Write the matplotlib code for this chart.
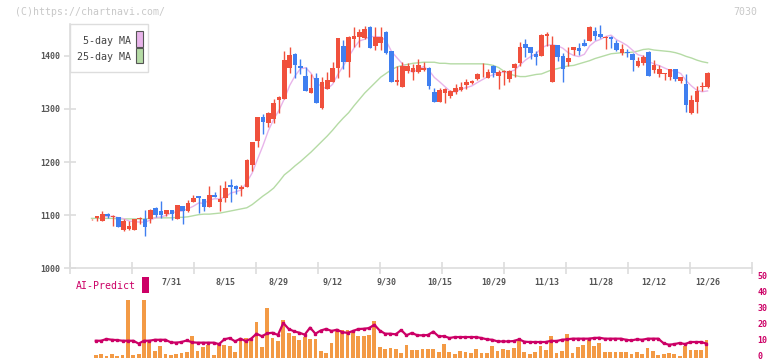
import numpy as np
import pandas as pd
import matplotlib
matplotlib.use('Agg')
import matplotlib.pyplot as plt
from matplotlib.patches import Rectangle
from matplotlib.transforms import ScaledTranslation

# ---------------- data ----------------
opens = [1092, 1095, 1090, 1103, 1097, 1096, 1072, 1074, 1072, 1092,
         1093, 1092, 1114, 1108, 1103, 1110, 1093, 1117, 1107, 1125,
         1137, 1130, 1116, 1138, 1125, 1133, 1157, 1155, 1150, 1154,
         1195, 1240, 1284, 1273, 1281, 1316, 1319, 1378, 1404, 1381,
         1362, 1331, 1358, 1301, 1338, 1351, 1378, 1419, 1389, 1431,
         1436, 1433, 1454, 1419, 1425, 1445, 1409, 1350, 1342, 1372,
         1369, 1370, 1373, 1378, 1332, 1314, 1330, 1325, 1332, 1336,
         1346, 1348, 1357, 1367, 1359, 1381, 1363, 1369, 1357, 1378,
         1387, 1422, 1416, 1404, 1400, 1438, 1350, 1420, 1400, 1388,
         1411, 1415, 1425, 1428, 1447, 1441, 1434, 1436, 1425, 1406,
         1407, 1404, 1380, 1386, 1408, 1373, 1365, 1366, 1360, 1375,
         1353, 1347, 1292, 1314, 1342, 1342]
highs = [1093, 1098, 1108, 1104, 1100, 1097, 1092, 1089, 1093, 1096,
         1110, 1111, 1115, 1127, 1110, 1110, 1119, 1117, 1129, 1138,
         1137, 1131, 1155, 1144, 1157, 1164, 1168, 1156, 1157, 1206,
         1237, 1284, 1290, 1294, 1319, 1324, 1409, 1417, 1405, 1395,
         1379, 1366, 1368, 1361, 1370, 1388, 1434, 1429, 1437, 1455,
         1450, 1456, 1456, 1454, 1455, 1446, 1410, 1380, 1389, 1386,
         1385, 1395, 1389, 1379, 1339, 1339, 1339, 1335, 1347, 1350,
         1356, 1354, 1368, 1386, 1376, 1382, 1373, 1373, 1374, 1387,
         1426, 1432, 1417, 1410, 1442, 1445, 1437, 1421, 1405, 1416,
         1417, 1425, 1432, 1457, 1455, 1458, 1437, 1437, 1429, 1422,
         1413, 1405, 1397, 1402, 1409, 1392, 1383, 1368, 1376, 1376,
         1361, 1366, 1326, 1343, 1350, 1369]
lows = [1091, 1090, 1090, 1094, 1080, 1078, 1071, 1072, 1072, 1084,
        1060, 1085, 1096, 1095, 1098, 1091, 1093, 1083, 1106, 1124,
        1105, 1107, 1116, 1134, 1108, 1125, 1125, 1139, 1137, 1154,
        1184, 1229, 1253, 1266, 1274, 1292, 1318, 1368, 1359, 1366,
        1333, 1331, 1311, 1300, 1338, 1350, 1359, 1375, 1360, 1416,
        1417, 1432, 1414, 1411, 1411, 1403, 1351, 1345, 1342, 1367,
        1355, 1367, 1372, 1338, 1314, 1314, 1311, 1320, 1328, 1333,
        1337, 1347, 1355, 1360, 1358, 1360, 1338, 1345, 1350, 1360,
        1380, 1397, 1395, 1382, 1399, 1419, 1350, 1391, 1350, 1380,
        1402, 1402, 1418, 1428, 1430, 1434, 1413, 1414, 1410, 1402,
        1398, 1372, 1379, 1382, 1363, 1368, 1361, 1355, 1355, 1353,
        1348, 1295, 1291, 1293, 1333, 1340]
closes = [1092, 1098, 1102, 1099, 1099, 1078, 1089, 1080, 1093, 1095,
          1077, 1110, 1101, 1101, 1110, 1102, 1119, 1107, 1123, 1133,
          1133, 1116, 1138, 1135, 1131, 1151, 1154, 1150, 1153, 1204,
          1237, 1284, 1276, 1293, 1312, 1323, 1392, 1402, 1383, 1378,
          1333, 1339, 1311, 1350, 1355, 1377, 1433, 1389, 1436, 1438,
          1444, 1450, 1414, 1435, 1436, 1406, 1351, 1355, 1380, 1380,
          1378, 1383, 1378, 1344, 1314, 1336, 1337, 1334, 1339, 1342,
          1350, 1352, 1365, 1368, 1370, 1367, 1370, 1372, 1372, 1385,
          1416, 1415, 1406, 1398, 1439, 1441, 1420, 1397, 1375, 1396,
          1416, 1409, 1419, 1454, 1438, 1435, 1436, 1432, 1411, 1413,
          1405, 1392, 1390, 1397, 1363, 1383, 1375, 1367, 1375, 1357,
          1360, 1308, 1317, 1334, 1343, 1368]
ma25 = [1094, 1094, 1094, 1094, 1094, 1093, 1093, 1093, 1093, 1093,
        1093, 1094, 1095, 1095, 1095, 1095, 1096, 1096, 1097, 1099,
        1101, 1102, 1102, 1103, 1104, 1106, 1108, 1110, 1112, 1114,
        1120, 1128, 1136, 1143, 1151, 1163, 1176, 1184, 1193, 1201,
        1210, 1219, 1229, 1239, 1249, 1260, 1272, 1283, 1293, 1306,
        1318, 1330, 1340, 1350, 1360, 1367, 1374, 1379, 1382, 1384,
        1386, 1387, 1388, 1388, 1388, 1386, 1386, 1385, 1385, 1385,
        1385, 1385, 1385, 1385, 1384, 1382, 1378, 1371, 1366, 1363,
        1361, 1361, 1363, 1365, 1366, 1370, 1374, 1376, 1379, 1381,
        1382, 1385, 1388, 1391, 1395, 1398, 1401, 1404, 1405, 1406,
        1406, 1407, 1409, 1412, 1413, 1411, 1410, 1409, 1408, 1406,
        1403, 1399, 1396, 1392, 1389, 1387]
# volume-like bars and AI-Predict line (start at the 2nd candle)
bars = [1.9, 2.5, 1.3, 2.5, 1.3, 1.9, 36.2, 1.9, 2.5, 36.2,
        9.8, 4.4, 7.5, 2.5, 1.9, 2.5, 3.1, 3.8, 13.8, 4.4,
        6.9, 8.1, 1.9, 9.4, 8.1, 7.5, 3.8, 12.5, 12.5, 11.9,
        22.5, 6.9, 31.2, 12.5, 10.6, 23.8, 15.6, 13.8, 11.2, 13.1,
        11.9, 11.9, 4.4, 3.1, 9.4, 17.5, 17.5, 17.5, 16.2, 13.8,
        13.8, 14.4, 23.1, 6.9, 5.6, 6.2, 5.6, 3.1, 8.1, 5.0,
        5.0, 5.6, 5.6, 5.6, 3.8, 8.8, 3.8, 2.5, 4.4, 3.8,
        3.1, 5.6, 3.1, 3.1, 7.5, 4.4, 5.6, 5.0, 6.2, 10.6,
        3.8, 2.5, 3.8, 7.5, 5.0, 13.8, 3.1, 4.4, 15.0, 3.1,
        6.9, 8.1, 11.2, 7.5, 9.4, 3.8, 3.8, 3.8, 3.8, 3.8,
        2.5, 3.8, 2.5, 6.2, 4.4, 1.9, 2.5, 3.1, 2.5, 1.3,
        7.5, 5.0, 5.0, 5.0, 11.2]
ai_predict = [10.6, 10.6, 11.7, 11.2, 11.0, 10.6, 10.6, 10.6, 8.8, 10.6,
              10.6, 11.2, 11.2, 11.2, 9.6, 9.4, 9.8, 10.8, 9.6, 9.4,
              9.4, 9.4, 9.4, 8.5, 11.5, 12.3, 10.2, 11.9, 10.4, 11.9,
              15.0, 13.4, 15.2, 15.6, 14.2, 21.7, 18.0, 16.5, 15.6, 14.4,
              18.8, 15.0, 17.0, 18.0, 16.7, 17.5, 16.0, 15.5, 16.7, 17.9,
              18.1, 18.5, 20.6, 17.0, 15.0, 15.0, 14.6, 17.3, 14.0, 15.5,
              14.0, 14.0, 14.2, 16.3, 13.3, 13.5, 12.3, 12.9, 12.9, 12.9,
              12.9, 12.9, 12.3, 11.5, 11.2, 10.2, 10.2, 10.2, 10.4, 11.5,
              10.0, 9.8, 9.8, 9.8, 9.8, 10.6, 10.4, 11.2, 11.5, 11.9,
              11.9, 11.9, 11.9, 12.3, 12.5, 11.9, 11.9, 11.9, 11.9, 11.2,
              10.8, 11.5, 11.2, 11.9, 11.9, 11.9, 9.0, 8.1, 8.5, 9.2,
              8.5, 9.8, 9.8, 9.8, 8.8]
date_labels = ['7/31', '8/15', '8/29', '9/12', '9/30', '10/15',
               '10/29', '11/13', '11/28', '12/12', '12/26']
date_label_idx = [15, 25, 35, 45, 55, 65, 75, 85, 95, 105, 115]
price_ticks = [1000, 1100, 1200, 1300, 1400]
ai_ticks = [0, 10, 20, 30, 40, 50]

# ---------------- styling ----------------
UP = '#f0503c'
DOWN = '#3f7ff0'
MA5_C = '#e8b4ea'
MA25_C = '#b5dba5'
BAR_C = '#f39a45'
AI_C = '#cc0066'
SPINE = '#dddddd'
TXT = '#555555'
MONO = 'DejaVu Sans Mono'

W, H = 772, 361
fig = plt.figure(figsize=(W / 100, H / 100), dpi=100)
fig.patch.set_facecolor('white')


def rect(l, t, r, b):
    return [l / W, 1 - b / H, (r - l) / W, (b - t) / H]


def fx(px):
    return px / W


def fy(py):
    return 1 - py / H


n = len(closes)
idx = np.arange(n)
o = np.array(opens, float)
h = np.array(highs, float)
lo = np.array(lows, float)
c = np.array(closes, float)

xl = (-(91.5 - 70) / 5.357, (752 - 91.5) / 5.357)

# ---------------- main price axes ----------------
ax = fig.add_axes(rect(70, 24, 752, 268.3))
ax.set_xlim(*xl)
ax.set_ylim(1000, 1460)
for s in ['top', 'right']:
    ax.spines[s].set_visible(False)
for s in ['left', 'bottom']:
    ax.spines[s].set_color(SPINE)
    ax.spines[s].set_linewidth(1.2)

ma5 = pd.Series(c).rolling(5, min_periods=1).mean().to_numpy()
ax.plot(idx, ma25, color=MA25_C, lw=1.0, zorder=1)
ax.plot(idx[2:], ma5[2:], color=MA5_C, lw=1.0, zorder=1)

up = c >= o
cols = np.where(up, UP, DOWN)
ax.vlines(idx, lo, h, colors=cols, lw=1.0, zorder=2)
body_b = np.minimum(o, c)
body_h = np.maximum(np.abs(c - o), 1.6)
ax.bar(idx, body_h, bottom=body_b, width=0.86, color=cols, lw=0, zorder=3)

ax.set_yticks(price_ticks)
ax.set_yticklabels([str(v) for v in price_ticks], fontfamily=MONO,
                   fontsize=6, color=TXT, fontweight='bold')
ax.tick_params(axis='y', direction='inout', length=8, width=1.2,
               color=SPINE, pad=3)
ax.set_xticks(date_label_idx)
ax.set_xticklabels(date_labels, fontfamily=MONO, fontsize=6, color=TXT,
                   fontweight='bold')
ax.tick_params(axis='x', which='major', length=0, pad=6.5)
ax.set_xticks(np.linspace(xl[0], xl[1], 12), minor=True)
ax.tick_params(axis='x', which='minor', direction='inout', length=9,
               width=1.2, color=SPINE)

# ---------------- lower panel ----------------
ax2 = fig.add_axes(rect(70, 277.7, 752, 357.7))
ax2.set_xlim(*xl)
ax2.set_ylim(0, 50)
for s in ax2.spines.values():
    s.set_visible(False)
ax2.set_xticks([])
bidx = idx[1:] - 0.2
ax2.bar(bidx, bars, width=0.7, color=BAR_C, lw=0, zorder=1)
ax2.plot(bidx, ai_predict, color=AI_C, lw=1.6, marker='s', ms=1.6,
         zorder=2, solid_joinstyle='round')
ax2.yaxis.tick_right()
ax2.set_yticks(ai_ticks)
ax2.set_yticklabels([str(v) for v in ai_ticks], fontfamily=MONO,
                    fontsize=6, color=AI_C, fontweight='bold')
ax2.tick_params(axis='y', length=0, pad=4)
ax2.patch.set_alpha(0)
lift = ScaledTranslation(0, 1.5 / 72, fig.dpi_scale_trans)
for lab in ax2.get_yticklabels():
    lab.set_transform(lab.get_transform() + lift)

# ---------------- texts / legend ----------------
fig.text(fx(15), fy(12.3), '(C)https://chartnavi.com/', fontfamily=MONO,
         fontsize=7.1, color='#c8c8c8', va='center', ha='left')
fig.text(fx(757), fy(12), '7030', fontfamily=MONO, fontsize=7.1,
         color='#c8c8c8', va='center', ha='right')

fig.patches.append(Rectangle((fx(70), fy(71.7)), (148.3 - 70) / W,
                             (71.7 - 24) / H, transform=fig.transFigure,
                             facecolor='white', edgecolor='#dddddd',
                             lw=1.0, zorder=5))
fig.text(fx(131), fy(41), '5-day MA', fontfamily=MONO, fontsize=7.2,
         color='#444444', va='center', ha='right', zorder=6)
fig.text(fx(131), fy(56.5), '25-day MA', fontfamily=MONO, fontsize=7.2,
         color='#444444', va='center', ha='right', zorder=6)
fig.patches.append(Rectangle((fx(136.3), fy(46.5)), 6.3 / W, 15 / H,
                             transform=fig.transFigure, facecolor=MA5_C,
                             edgecolor='#555555', lw=0.8, zorder=6))
fig.patches.append(Rectangle((fx(136.3), fy(63.2)), 6.3 / W, 15 / H,
                             transform=fig.transFigure, facecolor=MA25_C,
                             edgecolor='#555555', lw=0.8, zorder=6))

fig.text(fx(76), fy(285.7), 'AI-Predict', fontfamily=MONO, fontsize=7.1,
         color=AI_C, va='center', ha='left')
fig.patches.append(Rectangle((fx(142), fy(292.7)), 7 / W, 15.7 / H,
                             transform=fig.transFigure, facecolor=AI_C,
                             edgecolor='none', zorder=6))

fig.savefig('out.png', dpi=100, facecolor='white')
